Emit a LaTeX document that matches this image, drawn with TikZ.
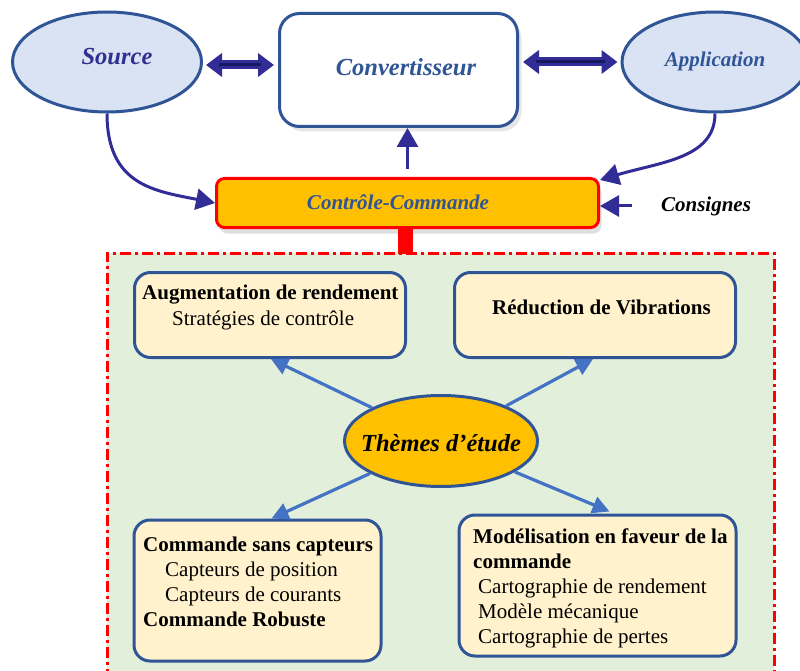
\documentclass[tikz,border=0pt]{standalone}
\usepackage{fontspec}
\setmainfont{Liberation Serif}
\usetikzlibrary{shapes.geometric,arrows.meta,shadows}

\definecolor{bordblue}{RGB}{47,85,151}
\definecolor{ellfill}{RGB}{218,227,243}
\definecolor{navyarr}{RGB}{50,44,150}
\definecolor{navydark}{RGB}{22,24,96}
\definecolor{ccorange}{RGB}{255,192,0}
\definecolor{cream}{RGB}{255,242,204}
\definecolor{zonegreen}{RGB}{226,239,218}
\definecolor{themearr}{RGB}{68,114,196}
\definecolor{srctext}{RGB}{46,49,146}

\tikzset{
  bigfont/.style={font=\fontsize{24.5}{28}\selectfont\bfseries\itshape},
  midfont/.style={font=\fontsize{21}{25}\selectfont\bfseries\itshape},
  boxfont/.style={font=\fontsize{21}{25}\selectfont, align=left, inner sep=0pt, anchor=north west},
  endpoint/.style={ellipse, draw=bordblue, fill=ellfill, line width=3pt},
  themebox/.style={rectangle, rounded corners=16pt, draw=bordblue, fill=cream, line width=3pt},
  navyline/.style={navyarr, line width=3pt, -{Triangle[length=19pt,width=21pt]}},
  dblarrow/.style={navyarr, line width=9pt,
    {Triangle[length=16pt,width=23pt]}-{Triangle[length=16pt,width=23pt]},
    postaction={draw=navydark, line width=3pt, -, shorten <=13pt, shorten >=13pt}},
  themearrow/.style={themearr, line width=3.2pt, -{Triangle[length=17pt,width=17pt]}},
}

\begin{document}
\begin{tikzpicture}[x=1pt, y=-1pt]
\useasboundingbox (0,0) rectangle (800,671);

% zone des themes
\node[draw=red, fill=zonegreen, line width=2.5pt, dash pattern=on 11pt off 4pt on 3pt off 4pt,
  minimum width=667pt, minimum height=450pt, inner sep=0pt, anchor=north west] (zone) at (106,252) {};

\node[rectangle, rounded corners=20pt, draw=bordblue, fill=white, line width=3pt,
  minimum width=238pt, minimum height=113pt,
  drop shadow={shadow xshift=4pt, shadow yshift=-5pt, opacity=0.2}] (conv) at (398.5,70) {};
\node[bigfont, text=bordblue] (convtxt) at (406,67) {Convertisseur};

\node[endpoint, minimum width=189pt, minimum height=100pt] (src) at (107,62) {};
\node[bigfont, text=srctext] (srctxt) at (117,57) {Source};

\node[endpoint, minimum width=186pt, minimum height=100pt] (app) at (715,62) {};
\node[midfont, text=bordblue] (apptxt) at (715,61) {Application};

\draw[dblarrow] ([xshift=3pt,yshift=-3pt]src.east) -- ([xshift=-4pt,yshift=5pt]conv.west);
\draw[dblarrow] ([xshift=4pt,yshift=8pt]conv.east) -- ([xshift=-3pt]app.west);

\node[rectangle, rounded corners=8pt, draw=red, fill=ccorange, line width=3pt,
  minimum width=382pt, minimum height=49pt,
  drop shadow={shadow xshift=3pt, shadow yshift=-6pt, opacity=0.25}] (cc) at (407.5,203) {};
\node[midfont, text=bordblue] (cctxt) at (398,202) {Contrôle-Commande};

\draw[red, line width=15pt] ([xshift=-2pt]cc.south) -- ([xshift=-2pt,yshift=-2pt]cc.south |- zone.north);

\node[midfont] (cons) at (706,206) {Consignes};

\draw[navyline] (src.south) .. controls +(0,72) and +(-60,-12) .. (cc.west);
\draw[navyline] (app.south) .. controls +(0,45) and +(60,-18) .. ([yshift=-3pt]cc.north east);
\draw[navyline, shorten <=8pt] (cc.north) -- (cc.north |- conv.south);
\draw[navyline, shorten <=26pt] (cons.west) -- (cc.east |- cons.west);

% themes d'etude
\node[themebox, minimum width=271pt, minimum height=85pt] (aug) at (270,315) {};
\node[boxfont] (augtxt) at (142,285) {\textbf{Augmentation de rendement}\\[1pt]
  \hspace*{30pt}Stratégies de contrôle};

\node[themebox, minimum width=281pt, minimum height=85pt] (vib) at (595,315) {};
\node[boxfont] (vibtxt) at (492,300) {\textbf{Réduction de Vibrations}};

\node[themebox, minimum width=247pt, minimum height=141pt] (sans) at (257.5,590.5) {};
\node[boxfont] (sanstxt) at (143,537) {\textbf{Commande sans capteurs}\\
  \hspace*{22pt}Capteurs de position\\
  \hspace*{22pt}Capteurs de courants\\
  \textbf{Commande Robuste}};

\node[themebox, minimum width=277pt, minimum height=141pt] (mod) at (597.5,585.5) {};
\node[boxfont] (modtxt) at (473,529) {\textbf{Modélisation en faveur de la}\\
  \textbf{commande}\\
  \hspace*{5pt}Cartographie de rendement\\
  \hspace*{5pt}Modèle mécanique\\
  \hspace*{5pt}Cartographie de pertes};

\node[ellipse, draw=bordblue, fill=ccorange, line width=3pt, minimum width=193pt, minimum height=91pt] (them) at (441,441) {};
\node[bigfont] (themtxt) at (441,443) {Thèmes d’étude};

\draw[themearrow] (them) -- ([xshift=1pt]aug.south);
\draw[themearrow] (them) -- ([xshift=-2pt]vib.south);
\draw[themearrow] (them) -- ([xshift=14pt]sans.north);
\draw[themearrow] (them) -- ([xshift=12pt,yshift=2pt]mod.north);
\end{tikzpicture}
\end{document}
